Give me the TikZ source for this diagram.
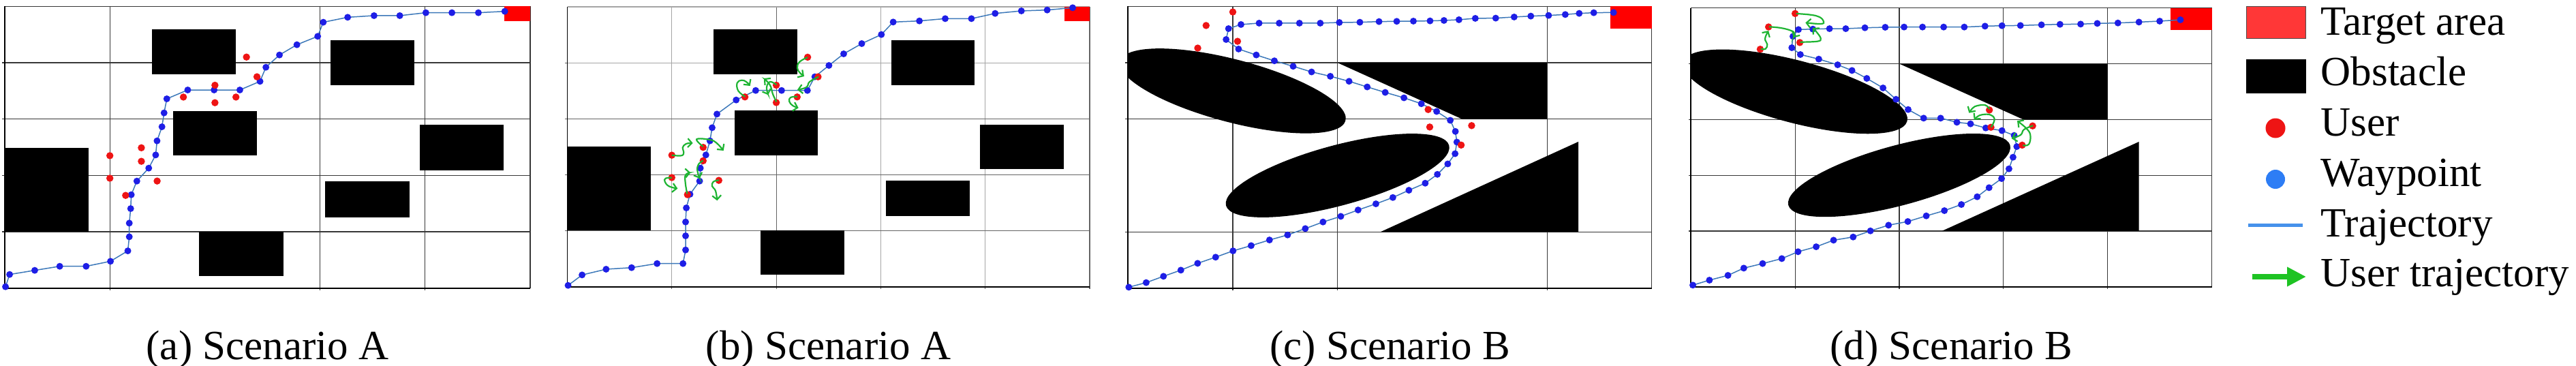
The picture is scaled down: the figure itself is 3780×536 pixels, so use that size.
\documentclass[tikz,border=0pt]{standalone}
\usepackage{fontspec}
\setmainfont{Liberation Serif}
\newfontfamily\lserif{Liberation Serif}
\usetikzlibrary{arrows.meta}

\definecolor{wpblue}{RGB}{30,30,230}
\definecolor{usred}{RGB}{238,20,20}
\definecolor{trblue}{RGB}{60,120,185}
\definecolor{ugreen}{RGB}{30,180,50}
\definecolor{tgred}{RGB}{255,0,0}
\definecolor{gridc}{RGB}{55,55,55}
\definecolor{gridl}{RGB}{165,165,165}
\definecolor{gridm}{RGB}{100,100,100}
\definecolor{legred}{RGB}{255,55,55}
\definecolor{legblue}{RGB}{45,125,245}
\definecolor{legline}{RGB}{70,145,235}
\definecolor{leggreen}{RGB}{30,195,35}

\tikzset{
  wp/.style={circle, fill=wpblue, inner sep=0pt, minimum size=1.0mm},
  usr/.style={circle, fill=usred, inner sep=0pt, minimum size=1.05mm},
  trajline/.style={draw=trblue, line width=0.15mm},
  gline/.style={draw=gridc, line width=0.12mm},
  glight/.style={draw=gridl, line width=0.12mm},
  gmid/.style={draw=gridm, line width=0.12mm},
  axisline/.style={draw=black, line width=0.17mm},
  obst/.style={fill=black},
  target/.style={fill=tgred},
  utraj/.style={draw=ugreen, line width=0.22mm, -{Straight Barb[length=0.6mm,width=1.3mm]}},
  captxt/.style={font=\lserif\fontsize{17.36pt}{20pt}\selectfont, inner sep=0pt, anchor=base},
  legtxt/.style={font=\lserif\fontsize{17.36pt}{20pt}\selectfont, inner sep=0pt, anchor=base west},
}

% waypoint and user lists (cell units, 5x5 grid)
\def\WA{0.007/0.024, 0.046/0.242, 0.285/0.315, 0.523/0.387, 0.774/0.387, 1.006/0.476, 1.171/0.661, 1.185/0.911, 1.185/1.153, 1.198/1.411, 1.204/1.657, 1.257/1.899, 1.370/2.129, 1.436/2.363, 1.449/2.613, 1.496/2.863, 1.516/3.109, 1.542/3.359, 1.741/3.516, 1.992/3.516, 2.237/3.516, 2.429/3.669, 2.485/3.919, 2.614/4.137, 2.780/4.319, 2.978/4.468, 3.031/4.718, 3.263/4.806, 3.514/4.835, 3.759/4.835, 4.007/4.887, 4.255/4.887, 4.507/4.887, 4.758/4.911}
\def\WB{0.007/0.024, 0.141/0.211, 0.371/0.313, 0.615/0.341, 0.859/0.414, 1.107/0.414, 1.132/0.657, 1.132/0.909, 1.132/1.157, 1.139/1.408, 1.174/1.652, 1.266/1.887, 1.273/2.119, 1.326/2.354, 1.365/2.606, 1.386/2.841, 1.432/3.084, 1.616/3.336, 1.803/3.506, 2.051/3.506, 2.298/3.506, 2.369/3.750, 2.504/3.953, 2.645/4.160, 2.818/4.343, 3.006/4.505, 3.119/4.728, 3.370/4.748, 3.617/4.789, 3.868/4.789, 4.095/4.882, 4.346/4.927, 4.593/4.943, 4.837/4.984}
\def\UAB{2.30/4.10, 2.40/3.75, 2.00/3.60, 1.70/3.39, 2.20/3.39, 2.00/3.29, 1.30/2.49, 1.30/2.25, 1.00/2.35, 1.00/1.95, 1.45/1.90, 1.15/1.645}
\def\WC{0.007/0.020, 0.173/0.101, 0.338/0.213, 0.504/0.322, 0.664/0.443, 0.836/0.552, 1.002/0.664, 1.175/0.757, 1.350/0.857, 1.523/0.946, 1.692/1.059, 1.861/1.176, 2.031/1.276, 2.196/1.389, 2.366/1.498, 2.528/1.610, 2.681/1.739, 2.837/1.864, 2.953/2.021, 3.052/2.206, 3.122/2.387, 3.139/2.593, 3.125/2.782, 3.076/2.979, 2.946/3.136, 2.800/3.273, 2.634/3.378, 2.455/3.474, 2.283/3.571, 2.110/3.671, 1.931/3.760, 1.752/3.837, 1.576/3.937, 1.397/4.034, 1.224/4.138, 1.055/4.243, 0.936/4.412, 0.959/4.605, 1.078/4.678, 1.251/4.702, 1.443/4.702, 1.636/4.702, 1.835/4.702, 2.017/4.714, 2.213/4.718, 2.396/4.730, 2.565/4.734, 2.724/4.738, 2.883/4.742, 3.016/4.750, 3.159/4.763, 3.315/4.787, 3.510/4.791, 3.686/4.811, 3.845/4.827, 4.015/4.839, 4.174/4.855, 4.307/4.875, 4.446/4.887, 4.635/4.891}
\def\WD{0.018/0.029, 0.177/0.118, 0.355/0.204, 0.507/0.334, 0.688/0.416, 0.872/0.505, 1.028/0.628, 1.202/0.717, 1.369/0.835, 1.557/0.892, 1.723/1.002, 1.897/1.104, 2.082/1.170, 2.259/1.271, 2.433/1.365, 2.596/1.475, 2.748/1.614, 2.862/1.777, 2.982/1.940, 3.053/2.115, 3.092/2.323, 3.128/2.514, 3.103/2.714, 2.986/2.800, 2.830/2.848, 2.684/2.922, 2.553/2.950, 2.397/3.024, 2.234/3.024, 2.085/3.178, 1.968/3.362, 1.844/3.566, 1.688/3.737, 1.546/3.879, 1.408/3.981, 1.227/4.083, 1.050/4.165, 0.968/4.287, 0.979/4.491, 1.032/4.613, 1.170/4.621, 1.330/4.629, 1.486/4.629, 1.670/4.645, 1.865/4.654, 2.046/4.658, 2.223/4.658, 2.426/4.658, 2.624/4.658, 2.823/4.674, 2.986/4.682, 3.163/4.686, 3.365/4.698, 3.543/4.707, 3.741/4.711, 3.901/4.723, 4.099/4.731, 4.301/4.747, 4.500/4.764, 4.699/4.788}
\def\UCD{1.00/4.90, 0.745/4.66, 1.045/4.38, 0.665/4.26, 2.865/3.17, 2.88/2.86, 3.28/2.885, 3.18/2.54}

\begin{document}
\begin{tikzpicture}[x=0.1mm, y=-0.1mm]
\useasboundingbox (0,0) rectangle (3780,536);

%================ Panel (a) ================
\begin{scope}[shift={(7,422.7)}, xscale=154.2, yscale=-82.68]
  \foreach \u in {1,3,4} \draw[gline] (\u,0) -- (\u,5) (\u,0) -- (\u,-0.04);
  \foreach \v in {1,2,3,4} \draw[gline] (0,\v) -- (5,\v) (0,\v) -- (-0.025,\v);
  \draw[gline] (0,5) -- (5,5) -- (5,0);
  \fill[obst] (1.40,3.80) rectangle (2.20,4.59);
  \fill[obst] (3.10,3.60) rectangle (3.90,4.40);
  \fill[obst] (1.60,2.35) rectangle (2.40,3.14);
  \fill[obst] (0,1.00) rectangle (0.80,2.49);
  \fill[obst] (3.95,2.09) rectangle (4.75,2.90);
  \fill[obst] (3.05,1.26) rectangle (3.85,1.90);
  \fill[obst] (1.85,0.21) rectangle (2.65,1.00);
  \fill[target] (4.752,4.742) rectangle (5,5);
  \draw[axisline] (0,5) -- (0,0) -- (5,0);
  \draw[trajline] (0.007,0.024) \foreach \x/\y in \WA {-- (\x,\y)};
  \foreach \x/\y [count=\i] in \WA \node[wp] (wa\i) at (\x,\y) {};
  \foreach \x/\y [count=\i] in \UAB \node[usr] (ua\i) at (\x,\y) {};
\end{scope}

%================ Panel (b) ================
\begin{scope}[shift={(832.5,420.7)}, xscale=153.3, yscale=-82.14]
  \foreach \u in {1,3,4} \draw[glight] (\u,0) -- (\u,5);
  \draw[gmid] (2,0) -- (2,5);
  \draw[glight] (0,4) -- (5,4) (0,5) -- (5,5);
  \draw[gmid] (0,3) -- (5,3) (0,2) -- (5,2) (0,1) -- (5,1);
  \draw[gmid] (5,5) -- (5,0);
  \foreach \u in {1,2,3,4,5} \draw[gmid] (\u,0) -- (\u,-0.04);
  \foreach \v in {1,2,3,4} \draw[gmid] (0,\v) -- (-0.025,\v);
  \fill[obst] (1.40,3.80) rectangle (2.20,4.60);
  \fill[obst] (3.10,3.60) rectangle (3.90,4.40);
  \fill[obst] (1.60,2.35) rectangle (2.40,3.15);
  \fill[obst] (0,1.01) rectangle (0.80,2.50);
  \fill[obst] (3.95,2.10) rectangle (4.75,2.90);
  \fill[obst] (3.05,1.26) rectangle (3.85,1.90);
  \fill[obst] (1.85,0.21) rectangle (2.65,1.01);
  \fill[target] (4.756,4.748) rectangle (5,5);
  \draw[axisline] (0,5) -- (0,0) -- (5,0);
  \draw[trajline] (0.007,0.024) \foreach \x/\y in \WB {-- (\x,\y)};
  \foreach \x/\y [count=\i] in \WB \node[wp] (wb\i) at (\x,\y) {};
  \foreach \x/\y [count=\i] in \UAB \node[usr] (ub\i) at (\x,\y) {};
\end{scope}
% user trajectories (b)
\draw[utraj] plot[smooth, tension=0.7] coordinates {(1185,84) (1173,91) (1170,100) (1174,107) (1180,112)};
\draw[utraj] plot[smooth, tension=0.7] coordinates {(1201,112.7) (1188,120) (1183.3,128) (1170,131.7)};
\draw[utraj] plot[smooth, tension=0.7] coordinates {(1139.3,149.3) (1134,138) (1130,125) (1121,115)};
\draw[utraj] plot[smooth, tension=0.7] coordinates {(1139.3,124.3) (1130,120) (1125,128) (1127.3,139.3)};
\draw[utraj] plot[smooth, tension=0.7] coordinates {(1093.3,141.7) (1083.3,133.3) (1081.7,121.7) (1088.3,117.7) (1095,120) (1100.7,126)};
\draw[utraj] plot[smooth, tension=0.7] coordinates {(1170,141.7) (1160,143) (1158.3,149) (1163.3,155) (1171.7,158.3)};
\draw[utraj] plot[smooth, tension=0.7] coordinates {(985.7,227.7) (1000,228.3) (1003.3,223.3) (1001.7,216.7) (1006.7,211) (1016.7,210)};
\draw[utraj] plot[smooth, tension=0.7] coordinates {(1031.7,215) (1022.3,204.3) (1041.7,205) (1051.7,210) (1061.7,221)};
\draw[utraj] plot[smooth, tension=0.7] coordinates {(1031.7,235.7) (1025,241) (1023.3,250) (1026.7,262)};
\draw[utraj] plot[smooth, tension=0.7] coordinates {(985.7,260.7) (976.7,261.7) (975.7,266.7) (981.7,273.3) (994.3,276.7)};
\draw[utraj] plot[smooth, tension=0.7] coordinates {(1008.3,284.3) (1005.7,268.3) (1006,256.7) (1013.3,253.3)};
\draw[utraj] plot[smooth, tension=0.7] coordinates {(1055,264.3) (1046.7,266.7) (1045,273.3) (1050,280) (1052.3,294.3)};

%================ Panel (c) ================
\begin{scope}[shift={(1655.3,423)}, xscale=153.7, yscale=-82.74]
  \foreach \u in {1,2,4} \draw[gline] (\u,0) -- (\u,5) (\u,0) -- (\u,-0.04);
  \foreach \v in {1,3,4} \draw[gline] (0,\v) -- (5,\v) (0,\v) -- (-0.025,\v);
  \draw[gline] (0,5) -- (5,5) -- (5,0);
  \fill[obst] (2,4) -- (4,4) -- (4,3) -- (3.19,3) -- cycle;
  \fill[obst] (2.41,1) -- (4.3,1) -- (4.3,2.6) -- cycle;
  \fill[target] (4.605,4.6) rectangle (5,5);
\end{scope}
\begin{scope}
  \clip (1655.3,9.3) rectangle (2424,423);
  \fill[obst, rotate around={-14.75:(1809,133.4)}] (1809,133.4) ellipse [x radius=17.1mm, y radius=4.6mm];
  \fill[obst, rotate around={15.1:(1962.7,257.5)}] (1962.7,257.5) ellipse [x radius=16.95mm, y radius=4.42mm];
\end{scope}
\begin{scope}[shift={(1655.3,423)}, xscale=153.7, yscale=-82.74]
  \draw[axisline] (0,5) -- (0,0) -- (5,0);
  \draw[trajline] (0.007,0.020) \foreach \x/\y in \WC {-- (\x,\y)};
  \foreach \x/\y [count=\i] in \WC \node[wp] (wc\i) at (\x,\y) {};
  \foreach \x/\y [count=\i] in \UCD \node[usr] (uc\i) at (\x,\y) {};
\end{scope}

%================ Panel (d) ================
\begin{scope}[shift={(2481.3,420.7)}, xscale=152.84, yscale=-81.8]
  \foreach \u in {1,2,3,4} \draw[gline] (\u,0) -- (\u,5) (\u,0) -- (\u,-0.04);
  \foreach \v in {1,2,3,4} \draw[gline] (0,\v) -- (5,\v) (0,\v) -- (-0.025,\v);
  \draw[gline] (0,5) -- (5,5) -- (5,0);
  \fill[obst] (2,4) -- (4,4) -- (4,3) -- (3.19,3) -- cycle;
  \fill[obst] (2.41,1) -- (4.3,1) -- (4.3,2.6) -- cycle;
  \fill[target] (4.603,4.609) rectangle (5,5);
\end{scope}
\begin{scope}
  \clip (2481.3,11.7) rectangle (3245.5,420.7);
  \fill[obst, rotate around={-14.75:(2634.1,134.4)}] (2634.1,134.4) ellipse [x radius=17.0mm, y radius=4.57mm];
  \fill[obst, rotate around={15.1:(2786.9,257.1)}] (2786.9,257.1) ellipse [x radius=16.85mm, y radius=4.4mm];
\end{scope}
\begin{scope}[shift={(2481.3,420.7)}, xscale=152.84, yscale=-81.8]
  \draw[axisline] (0,5) -- (0,0) -- (5,0);
  \draw[trajline] (0.018,0.029) \foreach \x/\y in \WD {-- (\x,\y)};
  \foreach \x/\y [count=\i] in \WD \node[wp] (wd\i) at (\x,\y) {};
  \foreach \x/\y [count=\i] in \UCD \node[usr] (ud\i) at (\x,\y) {};
\end{scope}
% user trajectories (d)
\draw[utraj] plot[smooth, tension=0.7] coordinates {(2635.7,20) (2656.7,21.7) (2670,25) (2676,31.7) (2671.7,35) (2649.3,33.3)};
\draw[utraj] plot[smooth, tension=0.7] coordinates {(2596,39.3) (2613.3,41) (2628.3,45) (2633.3,49.3) (2631.7,55)};
\draw[utraj] plot[smooth, tension=0.7] coordinates {(2641.7,61.7) (2666.7,60.7) (2671.7,56.7) (2666.7,48.3) (2660,40.7)};
\draw[utraj] plot[smooth, tension=0.7] coordinates {(2584,71.7) (2590.7,71.7) (2593.3,65) (2590,56.7) (2595,45)};
\draw[utraj] plot[smooth, tension=0.7] coordinates {(2919.3,160) (2913.3,154.3) (2901.7,155) (2895,158.3) (2889.3,165.7)};
\draw[utraj] plot[smooth, tension=0.7] coordinates {(2921.7,186.7) (2926.7,175) (2920,168.3) (2908.3,168.3) (2901.7,171) (2896.7,175.7)};
\draw[utraj] plot[smooth, tension=0.7] coordinates {(2983.3,184.3) (2970,190) (2965,198) (2951.7,203.3)};
\draw[utraj] plot[smooth, tension=0.7] coordinates {(2968.3,213.3) (2977,211.7) (2979.3,198.3) (2973.3,188.3) (2960,177.3)};

%================ Captions ================
\node[captxt] (capa) at (392.5,527) {(a) Scenario A};
\node[captxt] (capb) at (1215.5,527) {(b) Scenario A};
\node[captxt] (capc) at (2039.5,527) {(c) Scenario B};
\node[captxt] (capd) at (2863.4,527) {(d) Scenario B};

%================ Legend ================
\fill[legred, draw=gray!60!black, line width=0.1mm] (3296,9.3) rectangle (3383,56);
\fill[black, draw=black, line width=0.1mm] (3296,87) rectangle (3383,136);
\node[circle, fill=usred, inner sep=0pt, minimum size=2.9mm] (legu) at (3339,188) {};
\node[circle, fill=legblue, inner sep=0pt, minimum size=2.8mm] (legw) at (3339,263) {};
\coordinate (lta) at (3299,330);
\coordinate (ltb) at (3379,330);
\draw[legline, line width=0.5mm] (lta) -- (ltb);
\coordinate (lga) at (3305,406);
\coordinate (lgb) at (3384,406);
\draw[leggreen, line width=0.85mm, -{Triangle[length=2.8mm,width=2.7mm]}] (lga) -- (lgb);
\node[legtxt] (l1) at (3405,51.7) {Target area};
\node[legtxt] (l2) at (3405,125) {Obstacle};
\node[legtxt] (l3) at (3405,199) {User};
\node[legtxt] (l4) at (3405,273) {Waypoint};
\node[legtxt] (l5) at (3405,347) {Trajectory};
\node[legtxt] (l6) at (3405,420) {User trajectory};
\end{tikzpicture}
\end{document}
